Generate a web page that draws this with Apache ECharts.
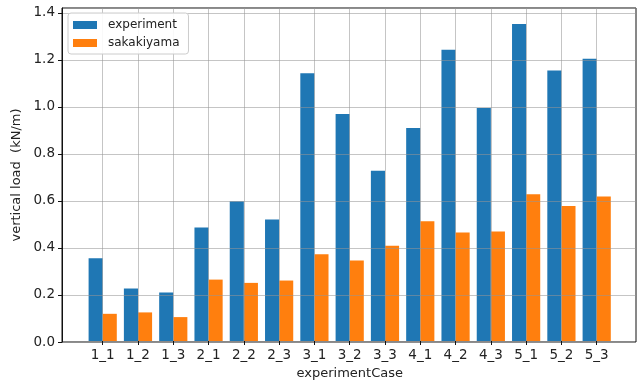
<!DOCTYPE html>
<html>
<head>
<meta charset="utf-8">
<script src="https://cdn.jsdelivr.net/npm/echarts@6/dist/echarts.min.js"></script>
<style>html,body{margin:0;padding:0;background:#fff}#c{width:642px;height:385px}</style>
</head>
<body>
<div id="c"></div>
<script>
const categories = ['1_1','1_2','1_3','2_1','2_2','2_3','3_1','3_2','3_3','4_1','4_2','4_3','5_1','5_2','5_3'];
const experiment = [0.353,0.224,0.207,0.484,0.596,0.519,1.143,0.969,0.726,0.909,1.243,0.994,1.353,1.154,1.204];
const sakakiyama = [0.116,0.122,0.102,0.262,0.248,0.258,0.370,0.343,0.406,0.511,0.463,0.467,0.626,0.576,0.617];
const yTicks = [0.0,0.2,0.4,0.6,0.8,1.0,1.2,1.4];

const FONT = 'DejaVu Sans';
const gridColor = 'rgba(150,150,150,0.55)';
const yMax = 1.421;

const chart = echarts.init(document.getElementById('c'), null, {renderer:'canvas'});
chart.setOption({
  animation: false,
  textStyle: {fontFamily: FONT},
  grid: [
    {left: 62, right: 6, top: 8, bottom: 43, show: true, borderColor: '#111', borderWidth: 1, backgroundColor: 'transparent'},
    {left: 102.7, right: 45.3, top: 8, bottom: 43}
  ],
  legend: {
    orient: 'vertical', left: 68, top: 13, z: 10,
    data: ['experiment','sakakiyama'],
    itemWidth: 24, itemHeight: 8, itemGap: 6,
    padding: [6, 9, 5, 5],
    backgroundColor: 'rgba(255,255,255,0.9)',
    borderColor: '#ccc', borderWidth: 1, borderRadius: 3,
    textStyle: {fontFamily: FONT, fontSize: 12, lineHeight: 12, color: '#222', padding: [0, 0, 0, 6]},
    icon: 'rect'
  },
  xAxis: [
    {gridIndex: 0, type: 'value', min: 0, max: 1, show: false},
    {
      gridIndex: 1, type: 'category', data: categories, boundaryGap: false, z: 5,
      axisLine: {show: false},
      axisTick: {show: true, length: 4, lineStyle: {color: '#111'}},
      axisLabel: {fontFamily: FONT, fontSize: 13.5, color: '#222', margin: 7, interval: 0},
      splitLine: {show: true, lineStyle: {color: gridColor, width: 1}},
      name: 'experimentCase', nameLocation: 'middle', nameGap: 26,
      nameTextStyle: {fontFamily: FONT, fontSize: 13, color: '#222'}
    }
  ],
  yAxis: [
    {
      gridIndex: 0, type: 'value', min: 0, max: yMax, interval: 0.2, z: 5,
      axisLine: {show: true, lineStyle: {color: '#111'}},
      axisTick: {show: true, length: 4, lineStyle: {color: '#111'}},
      axisLabel: {fontFamily: FONT, fontSize: 13.5, color: '#222', margin: 7, showMaxLabel: false,
        formatter: v => yTicks.some(t => Math.abs(t - v) < 1e-6) ? v.toFixed(1) : ''},
      splitLine: {show: true, lineStyle: {color: gridColor, width: 1}},
      name: 'vertical load  (kN/m)', nameLocation: 'middle', nameGap: 35,
      nameTextStyle: {fontFamily: FONT, fontSize: 13, color: '#222'}
    },
    {gridIndex: 1, type: 'value', min: 0, max: yMax, show: false}
  ],
  series: [
    {name: 'experiment', type: 'bar', xAxisIndex: 1, yAxisIndex: 1, data: experiment,
     barWidth: 14.1, barGap: '0%', clip: false, itemStyle: {color: '#1f77b4'}},
    {name: 'sakakiyama', type: 'bar', xAxisIndex: 1, yAxisIndex: 1, data: sakakiyama,
     barWidth: 14.1, barGap: '0%', clip: false, itemStyle: {color: '#ff7f0e'}}
  ]
});
</script>
</body>
</html>
